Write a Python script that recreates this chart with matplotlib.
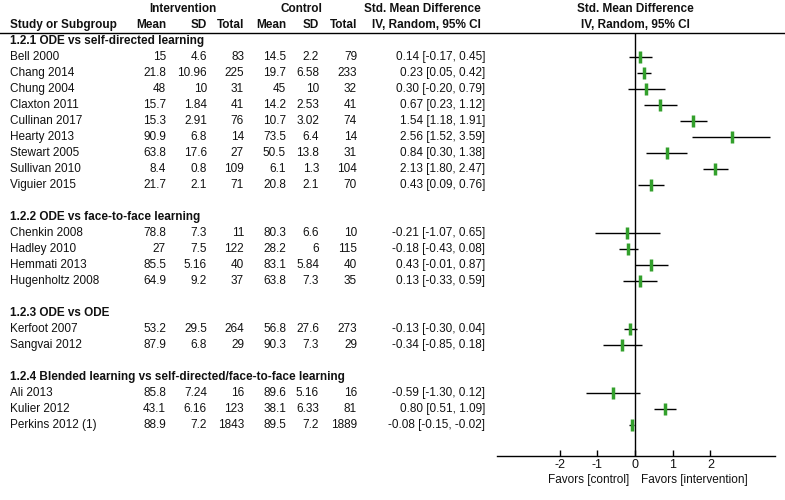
import matplotlib
matplotlib.use('Agg')
from matplotlib import pyplot as plt

plt.rcParams['font.family'] = ['Liberation Sans', 'DejaVu Sans']
plt.rcParams['axes.unicode_minus'] = False

groups = ['1.2.1 ODE vs self-directed learning',
          '1.2.2 ODE vs face-to-face learning',
          '1.2.3 ODE vs ODE',
          '1.2.4 Blended learning vs self-directed/face-to-face learning']

studies = ['Bell 2000', 'Chang 2014', 'Chung 2004', 'Claxton 2011', 'Cullinan 2017',
           'Hearty 2013', 'Stewart 2005', 'Sullivan 2010', 'Viguier 2015',
           'Chenkin 2008', 'Hadley 2010', 'Hemmati 2013', 'Hugenholtz 2008',
           'Kerfoot 2007', 'Sangvai 2012',
           'Ali 2013', 'Kulier 2012', 'Perkins 2012 (1)']
group_of = [0, 0, 0, 0, 0, 0, 0, 0, 0, 1, 1, 1, 1, 2, 2, 3, 3, 3]

int_mean = [15, 21.8, 48, 15.7, 15.3, 90.9, 63.8, 8.4, 21.7,
            78.8, 27, 85.5, 64.9, 53.2, 87.9, 85.8, 43.1, 88.9]
int_sd = [4.6, 10.96, 10, 1.84, 2.91, 6.8, 17.6, 0.8, 2.1,
          7.3, 7.5, 5.16, 9.2, 29.5, 6.8, 7.24, 6.16, 7.2]
int_n = [83, 225, 31, 41, 76, 14, 27, 109, 71,
         11, 122, 40, 37, 264, 29, 16, 123, 1843]
ctl_mean = [14.5, 19.7, 45, 14.2, 10.7, 73.5, 50.5, 6.1, 20.8,
            80.3, 28.2, 83.1, 63.8, 56.8, 90.3, 89.6, 38.1, 89.5]
ctl_sd = [2.2, 6.58, 10, 2.53, 3.02, 6.4, 13.8, 1.3, 2.1,
          6.6, 6, 5.84, 7.3, 27.6, 7.3, 5.16, 6.33, 7.2]
ctl_n = [79, 233, 32, 41, 74, 14, 31, 104, 70,
         10, 115, 40, 35, 273, 29, 16, 81, 1889]
smd = [0.14, 0.23, 0.30, 0.67, 1.54, 2.56, 0.84, 2.13, 0.43,
       -0.21, -0.18, 0.43, 0.13, -0.13, -0.34, -0.59, 0.80, -0.08]
ci_lo = [-0.17, 0.05, -0.20, 0.23, 1.18, 1.52, 0.30, 1.80, 0.09,
         -1.07, -0.43, -0.01, -0.33, -0.30, -0.85, -1.30, 0.51, -0.15]
ci_hi = [0.45, 0.42, 0.79, 1.12, 1.91, 3.59, 1.38, 2.47, 0.76,
         0.65, 0.08, 0.87, 0.59, 0.04, 0.18, 0.12, 1.09, -0.02]

x_ticks = [-2, -1, 0, 1, 2]

fs = 8.5
txt_color = '#111111'
green = '#33a02c'

fig = plt.figure(figsize=(7.85, 5), dpi=100)

# table part, pixel coordinates
tab = fig.add_axes([0, 0, 1, 1])
tab.set_xlim(0, 785)
tab.set_ylim(500, 0)
tab.axis('off')

# forest part, x in SMD units, y in the same pixel rows
ax = fig.add_axes([497 / 785, 0, (775 - 497) / 785, 1])
ax.set_xlim(-3.66, 3.71)
ax.set_ylim(500, 0)
ax.patch.set_alpha(0)

# headers
tab.text(183, 9, 'Intervention', ha='center', va='center', fontsize=fs, fontweight='bold', color=txt_color)
tab.text(301, 9, 'Control', ha='center', va='center', fontsize=fs, fontweight='bold', color=txt_color)
tab.text(481, 9, 'Std. Mean Difference', ha='right', va='center', fontsize=fs, fontweight='bold', color=txt_color)
ax.text(0, 9, 'Std. Mean Difference', ha='center', va='center', fontsize=fs, fontweight='bold', color=txt_color)
tab.text(10, 25, 'Study or Subgroup', ha='left', va='center', fontsize=fs, fontweight='bold', color=txt_color)
cols = [166, 207, 244, 286, 319, 357]
for x, lab in zip(cols, ['Mean', 'SD', 'Total', 'Mean', 'SD', 'Total']):
    tab.text(x, 25, lab, ha='right', va='center', fontsize=fs, fontweight='bold', color=txt_color)
tab.text(481, 25, 'IV, Random, 95% CI', ha='right', va='center', fontsize=fs, fontweight='bold', color=txt_color)
ax.text(0, 25, 'IV, Random, 95% CI', ha='center', va='center', fontsize=fs, fontweight='bold', color=txt_color)
tab.plot([0, 785], [33, 33], color='black', lw=1)

row_h = 16
row = 0
prev_g = None
for i, name in enumerate(studies):
    g = group_of[i]
    if g != prev_g:
        if prev_g is not None:
            row += 1
        tab.text(10, 41 + row_h * row, groups[g], ha='left', va='center', fontsize=fs,
                 fontweight='bold', color=txt_color)
        row += 1
        prev_g = g
    y = 41 + row_h * row
    tab.text(10, y, name, ha='left', va='center', fontsize=fs, color=txt_color)
    vals = [int_mean[i], int_sd[i], int_n[i], ctl_mean[i], ctl_sd[i], ctl_n[i]]
    for x, v in zip(cols, vals):
        tab.text(x, y, f'{v:g}', ha='right', va='center', fontsize=fs, color=txt_color)
    tab.text(485, y, f'{smd[i]:.2f} [{ci_lo[i]:.2f}, {ci_hi[i]:.2f}]', ha='right', va='center',
             fontsize=fs, color=txt_color)
    ax.plot([ci_lo[i], ci_hi[i]], [y, y], color='black', lw=1, solid_capstyle='butt')
    ax.plot(smd[i], y, marker='|', ms=8, mew=2.5, color=green)
    row += 1

axis_y = 456
ax.vlines(0, 33, axis_y, color='black', lw=1)

for s in ['top', 'left', 'right']:
    ax.spines[s].set_visible(False)
ax.spines['bottom'].set_position(('data', axis_y))
ax.spines['bottom'].set_linewidth(1)
ax.set_yticks([])
ax.set_xticks(x_ticks)
ax.tick_params(axis='x', direction='in', length=4.5, width=1, pad=2.5, labelsize=fs + 0.5,
               labelcolor=txt_color)

ax.text(-0.15, 480, 'Favors [control]', ha='right', va='center', fontsize=fs, color=txt_color)
ax.text(0.15, 480, 'Favors [intervention]', ha='left', va='center', fontsize=fs, color=txt_color)

fig.savefig('out.png', dpi=100)
